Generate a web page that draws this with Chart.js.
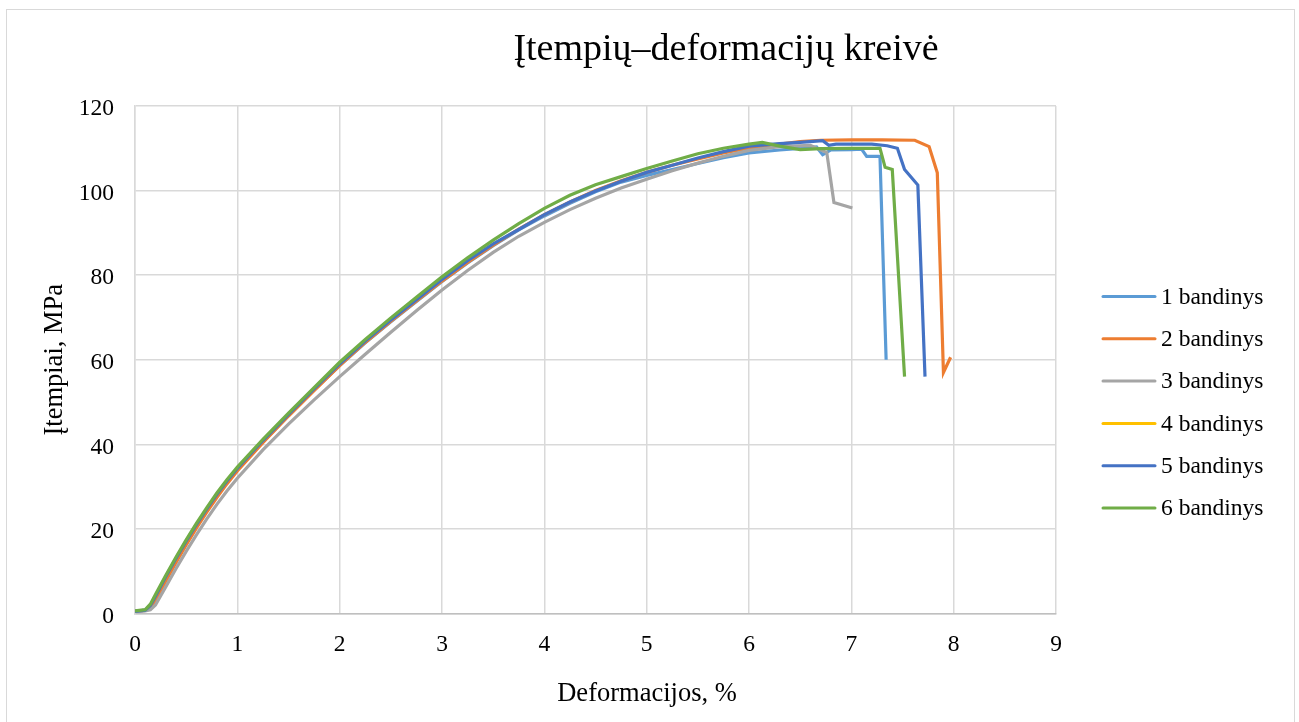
<!DOCTYPE html>
<html>
<head>
<meta charset="utf-8">
<script src="https://cdn.jsdelivr.net/npm/chart.js@4/dist/chart.umd.min.js"></script>
<style>
  html, body { margin: 0; padding: 0; background: #ffffff; }
  #c { display: block; }
</style>
</head>
<body>
<canvas id="c" width="1299" height="722"></canvas>
<script>
// ---- Data ----
const chartTitle = "Įtempių–deformacijų kreivė";
const xAxisTitle = "Deformacijos, %";
const yAxisTitle = "Įtempiai, MPa";
const seriesNames = ["1 bandinys", "2 bandinys", "3 bandinys", "4 bandinys", "5 bandinys", "6 bandinys"];
const seriesColors = ["#5B9BD5", "#ED7D31", "#A5A5A5", "#FFC000", "#4472C4", "#70AD47"];
const xTicks = [0, 1, 2, 3, 4, 5, 6, 7, 8, 9];
const yTicks = [0, 20, 40, 60, 80, 100, 120];

const strain1 = [0, 0.1, 0.15, 0.2, 0.3, 0.4, 0.5, 0.6, 0.7, 0.8, 0.9, 1.0, 1.25, 1.5, 1.75, 2.0, 2.25, 2.5, 2.75, 3.0, 3.25, 3.5, 3.75, 4.0, 4.25, 4.5, 4.75, 5.0, 5.25, 5.5, 5.75, 6.0, 6.3, 6.5, 6.66, 6.72, 6.8, 7.0, 7.1, 7.15, 7.28, 7.34];
const stress1 = [0.5, 0.7, 1.6, 3.8, 8.4, 12.7, 16.8, 20.7, 24.4, 27.9, 31.1, 34.0, 40.6, 46.8, 52.8, 58.6, 64.0, 69.0, 73.8, 78.5, 82.9, 87.0, 90.7, 94.0, 97.0, 99.7, 102.0, 103.6, 105.0, 106.4, 107.8, 108.9, 109.6, 110.0, 110.3, 108.5, 109.6, 109.7, 109.8, 108.1, 108.1, 60.0];

const strain2 = [0, 0.1, 0.15, 0.2, 0.3, 0.4, 0.5, 0.6, 0.7, 0.8, 0.9, 1.0, 1.25, 1.5, 1.75, 2.0, 2.25, 2.5, 2.75, 3.0, 3.25, 3.5, 3.75, 4.0, 4.25, 4.5, 4.75, 5.0, 5.25, 5.5, 5.75, 6.0, 6.3, 6.5, 6.7, 7.0, 7.3, 7.62, 7.76, 7.84, 7.9, 7.97];
const stress2 = [0.5, 0.7, 1.2, 3.0, 7.6, 12.0, 16.2, 20.2, 23.9, 27.4, 30.7, 33.7, 40.4, 46.7, 52.7, 58.6, 64.1, 69.1, 73.9, 78.6, 83.0, 87.1, 90.9, 94.3, 97.3, 100.0, 102.3, 104.3, 106.0, 107.5, 108.9, 110.0, 111.0, 111.6, 111.9, 112.0, 112.0, 111.9, 110.4, 104.2, 57.0, 60.6];

const strain3 = [0, 0.1, 0.15, 0.2, 0.3, 0.4, 0.5, 0.6, 0.7, 0.8, 0.9, 1.0, 1.25, 1.5, 1.75, 2.0, 2.25, 2.5, 2.75, 3.0, 3.25, 3.5, 3.75, 4.0, 4.25, 4.5, 4.75, 5.0, 5.25, 5.5, 5.75, 6.0, 6.3, 6.6, 6.76, 6.83, 7.01];
const stress3 = [0.5, 0.6, 0.9, 2.0, 6.3, 10.6, 14.7, 18.6, 22.3, 25.8, 29.0, 32.0, 38.7, 44.8, 50.5, 56.0, 61.3, 66.5, 71.6, 76.5, 81.1, 85.4, 89.2, 92.5, 95.5, 98.2, 100.6, 102.7, 104.7, 106.5, 108.1, 109.5, 110.4, 110.7, 109.0, 97.2, 95.9];

const strain4 = [];
const stress4 = [];

const strain5 = [0, 0.1, 0.15, 0.2, 0.3, 0.4, 0.5, 0.6, 0.7, 0.8, 0.9, 1.0, 1.25, 1.5, 1.75, 2.0, 2.25, 2.5, 2.75, 3.0, 3.25, 3.5, 3.75, 4.0, 4.25, 4.5, 4.75, 5.0, 5.25, 5.5, 5.75, 6.0, 6.3, 6.5, 6.72, 6.78, 6.85, 7.2, 7.35, 7.45, 7.52, 7.65, 7.72];
const stress5 = [0.5, 0.8, 1.9, 4.1, 8.7, 13.0, 17.1, 21.0, 24.7, 28.2, 31.4, 34.3, 40.9, 47.1, 53.1, 59.0, 64.4, 69.4, 74.2, 79.0, 83.4, 87.4, 90.8, 94.3, 97.3, 99.9, 102.2, 104.3, 106.0, 107.7, 109.2, 110.5, 111.1, 111.4, 111.8, 110.7, 111.0, 111.0, 110.6, 110.0, 105.0, 101.3, 56.0];

const strain6 = [0, 0.1, 0.15, 0.2, 0.3, 0.4, 0.5, 0.6, 0.7, 0.8, 0.9, 1.0, 1.25, 1.5, 1.75, 2.0, 2.25, 2.5, 2.75, 3.0, 3.25, 3.5, 3.75, 4.0, 4.25, 4.5, 4.75, 5.0, 5.25, 5.5, 5.75, 6.0, 6.13, 6.3, 6.5, 6.7, 7.0, 7.28, 7.33, 7.4, 7.52];
const stress6 = [0.6, 0.9, 2.2, 4.5, 9.0, 13.3, 17.4, 21.3, 25.0, 28.5, 31.7, 34.6, 41.2, 47.4, 53.4, 59.4, 64.8, 69.9, 74.8, 79.6, 84.1, 88.3, 92.2, 95.8, 98.9, 101.4, 103.3, 105.2, 107.0, 108.7, 110.0, 111.0, 111.4, 110.5, 109.7, 109.9, 110.0, 110.0, 105.5, 105.0, 56.0];

const strains = [strain1, strain2, strain3, strain4, strain5, strain6];
const stresses = [stress1, stress2, stress3, stress4, stress5, stress6];

// ---- Build datasets ----
const FONT = "'Liberation Serif', 'Times New Roman', serif";
const datasets = seriesNames.map((name, i) => ({
  label: name,
  data: strains[i].map((x, k) => ({ x: x, y: stresses[i][k] })),
  borderColor: seriesColors[i],
  backgroundColor: seriesColors[i],
  borderWidth: 3.2,
  pointRadius: 0,
  pointHoverRadius: 0,
  tension: 0,
  fill: false,
  order: seriesNames.length - i
}));

// Custom decorations: outer frame, title, x-axis title, legend
const decor = {
  id: 'decor',
  beforeDraw(chart) {
    const ctx = chart.ctx;
    ctx.save();
    ctx.fillStyle = '#ffffff';
    ctx.fillRect(0, 0, chart.width, chart.height);
    ctx.strokeStyle = '#d9d9d9';
    ctx.lineWidth = 1;
    ctx.strokeRect(6.5, 9.5, 1288, 730);
    ctx.restore();
  },
  afterDraw(chart) {
    const ctx = chart.ctx;
    ctx.save();
    // chart title
    ctx.fillStyle = '#000000';
    ctx.font = "38px " + FONT;
    ctx.textAlign = 'center';
    ctx.textBaseline = 'alphabetic';
    ctx.fillText(chartTitle, 726, 60);
    // x axis title (centred on the chart, as in the reference)
    ctx.font = "26.5px " + FONT;
    ctx.textBaseline = 'middle';
    ctx.fillText(xAxisTitle, 647, 694);
    // legend
    ctx.font = "23.5px " + FONT;
    ctx.textAlign = 'left';
    ctx.textBaseline = 'middle';
    const y0 = 296.5, dy = 42.3;
    chart.data.datasets.forEach((ds, i) => {
      const y = y0 + i * dy;
      ctx.strokeStyle = ds.borderColor;
      ctx.lineWidth = 3;
      ctx.lineCap = 'round';
      ctx.beginPath();
      ctx.moveTo(1103, y);
      ctx.lineTo(1155, y);
      ctx.stroke();
      ctx.fillStyle = '#000000';
      ctx.fillText(ds.label, 1161, y + 1);
    });
    ctx.restore();
  }
};

new Chart(document.getElementById('c'), {
  type: 'line',
  data: { datasets: datasets },
  plugins: [decor],
  options: {
    responsive: false,
    animation: false,
    layout: { padding: { top: 106, right: 243, bottom: 0, left: 0 } },
    plugins: {
      legend: { display: false },
      title: { display: false },
      tooltip: { enabled: false }
    },
    scales: {
      x: {
        type: 'linear',
        min: xTicks[0],
        max: xTicks[xTicks.length - 1],
        afterBuildTicks: (s) => { s.ticks = xTicks.map(v => ({ value: v })); },
        afterFit: (s) => { s.height = 108.5; },
        ticks: {
          padding: 17,
          color: '#000000',
          font: { family: FONT, size: 23.5 },
          maxRotation: 0
        },
        grid: { color: '#d9d9d9', lineWidth: 1.5, drawTicks: false },
        border: { display: true, color: '#bfbfbf', width: 1.5 },
        title: { display: false, text: xAxisTitle }
      },
      y: {
        type: 'linear',
        min: yTicks[0],
        max: yTicks[yTicks.length - 1],
        afterBuildTicks: (s) => { s.ticks = yTicks.map(v => ({ value: v })); },
        afterFit: (s) => { s.width = 135; },
        ticks: {
          padding: 21,
          labelOffset: 3,
          color: '#000000',
          font: { family: FONT, size: 23.5 }
        },
        grid: { color: '#d9d9d9', lineWidth: 1.5, drawTicks: false },
        border: { display: true, color: '#d9d9d9', width: 1.5 },
        title: {
          display: true,
          text: yAxisTitle,
          color: '#000000',
          font: { family: FONT, size: 26.5, lineHeight: 1.2 },
          padding: { top: 39, bottom: 0 }
        }
      }
    }
  }
});
</script>
</body>
</html>
